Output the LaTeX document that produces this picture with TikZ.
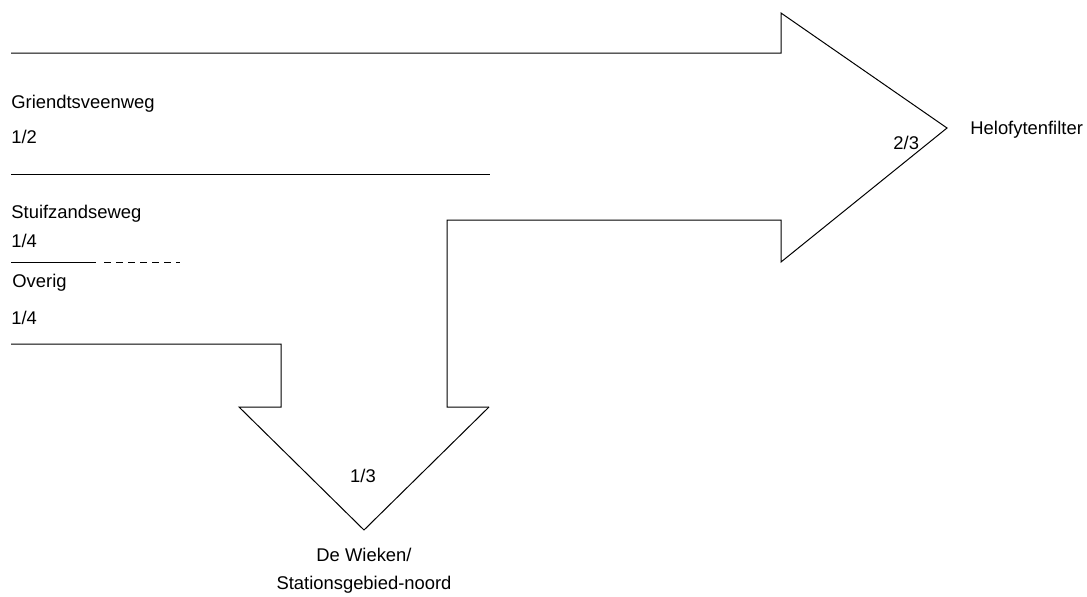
\documentclass[tikz,border=0pt]{standalone}
\usepackage{fontspec}
\setmainfont{Liberation Sans}
\usetikzlibrary{positioning}

\begin{document}
\begin{tikzpicture}[x=0.5pt, y=-0.5pt]
        \tikzset{
            lbl/.style = {anchor=base west, inner sep=0pt, font=\fontsize{9.2}{11}\selectfont},
            clbl/.style = {anchor=base, inner sep=0pt, font=\fontsize{9.2}{11}\selectfont},
            flow/.style = {line width=0.5pt, line join=miter},
            part/.style = {line width=0.5pt, dash pattern=on 3.5pt off 2.5pt}
        }
        \useasboundingbox (0,0) rectangle (1087,596);

        % sources
        \node (gv) [lbl] at (11,108) {Griendtsveenweg};
        \node (gvfrac) [lbl] at (11,143) {1/2};
        \node (sz) [lbl] at (11,218) {Stuifzandseweg};
        \node (szfrac) [lbl] at (11,247) {1/4};
        \node (ov) [lbl] at (12,287) {Overig};
        \node (ovfrac) [lbl] at (11,324) {1/4};

        % destinations
        \node (hf) [lbl] at (970,134) {Helofytenfilter};
        \node (hffrac) [lbl] at (893,149) {2/3};
        \node (dwfrac) [clbl] at (363,482) {1/3};
        \node (dw) [clbl] at (364,561) {De Wieken/};
        \node (stat) [clbl, below=14pt of dw.base, anchor=base] {Stationsgebied-noord};

        % big arrow to the filter
        \coordinate (hftip) at (947,128);
        \draw [flow] (11,53) -- (781,53) -- (781,13) -- (hftip)
            -- (781,262) -- (781,220) -- (447,220) -- (447,407) -- (489,407);

        % arrow to De Wieken
        \coordinate (dwtip) at (364,530);
        \draw [flow] (11,344) -- (281,344) -- (281,407) -- (239,407) -- (dwtip) -- (489,407);

        % split lines
        \draw [flow] (11,174) -- (490,174);
        \draw [flow] (11,262) -- (96,262);
        \draw [part] (104,262) -- (180,262);

    \end{tikzpicture}
\end{document}
